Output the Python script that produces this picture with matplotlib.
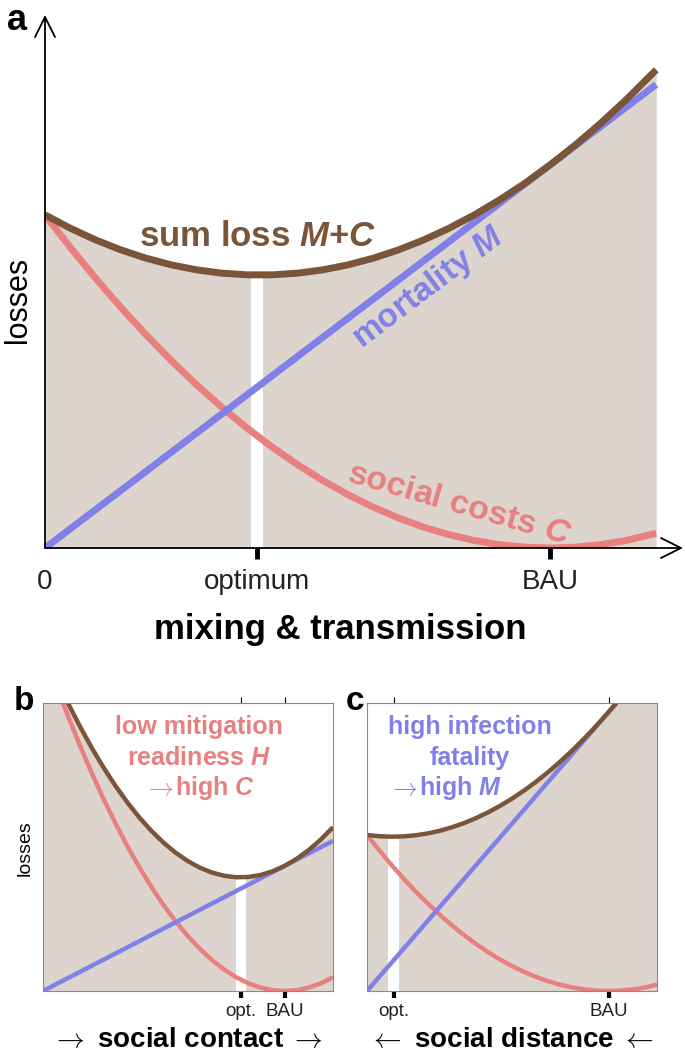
import matplotlib as mpl
import matplotlib.pyplot as plt
import numpy as np

mpl.rcParams["font.family"] = ["Liberation Sans", "DejaVu Sans"]
mpl.rcParams["mathtext.fontset"] = "custom"
mpl.rcParams["mathtext.rm"] = "Liberation Sans:bold"
mpl.rcParams["mathtext.it"] = "Liberation Sans:italic:bold"
mpl.rcParams["mathtext.bf"] = "Liberation Sans:bold"

COL_FILL = "#ddd5cd"
COL_SUM = "#7b5539"
COL_MORT = "#8080e8"
COL_COST = "#e88080"

# panel a: mixing & transmission (BAU at 1)
a_x = [0.0, 0.05, 0.1, 0.15, 0.2, 0.25, 0.3, 0.35, 0.4, 0.45, 0.5, 0.55,
       0.6, 0.65, 0.7, 0.75, 0.8, 0.85, 0.9, 0.95, 1.0, 1.05, 1.1, 1.15,
       1.21]
a_mort = [0.0, 0.0575, 0.115, 0.1725, 0.23, 0.2875, 0.345, 0.4025, 0.46,
          0.5175, 0.575, 0.6325, 0.69, 0.7475, 0.805, 0.8625, 0.92, 0.9775,
          1.035, 1.0925, 1.15, 1.2075, 1.265, 1.3225, 1.3915]
a_cost = [1.0, 0.9025, 0.81, 0.7225, 0.64, 0.5625, 0.49, 0.4225, 0.36,
          0.3025, 0.25, 0.2025, 0.16, 0.1225, 0.09, 0.0625, 0.04, 0.0225,
          0.01, 0.0025, 0.0, 0.0025, 0.01, 0.0225, 0.0441]
a_ticks = [0.0, 0.42, 1.0]
a_ticklabels = ["0", "optimum", "BAU"]

# panel b: low mitigation readiness
b_x = [0.0, 0.05, 0.1, 0.15, 0.2, 0.25, 0.3, 0.35, 0.4, 0.45, 0.5, 0.55,
       0.6, 0.65, 0.7, 0.75, 0.8, 0.85, 0.9, 0.95, 1.0, 1.05, 1.1, 1.15,
       1.2]
b_mort = [0.0, 0.03475, 0.0695, 0.10425, 0.139, 0.17375, 0.2085, 0.24325,
          0.278, 0.31275, 0.3475, 0.38225, 0.417, 0.45175, 0.4865, 0.52125,
          0.556, 0.59075, 0.6255, 0.66025, 0.695, 0.72975, 0.7645, 0.79925,
          0.834]
b_cost = [1.9, 1.7148, 1.539, 1.3728, 1.216, 1.0688, 0.931, 0.8028, 0.684,
          0.5748, 0.475, 0.3848, 0.304, 0.2328, 0.171, 0.1188, 0.076,
          0.0428, 0.019, 0.0048, 0.0, 0.0048, 0.019, 0.0428, 0.076]
b_ticks = [0.82, 1.0]

# panel c: high infection fatality
c_x = b_x
c_mort = [0.0, 0.0775, 0.155, 0.2325, 0.31, 0.3875, 0.465, 0.5425, 0.62,
          0.6975, 0.775, 0.8525, 0.93, 1.0075, 1.085, 1.1625, 1.24, 1.3175,
          1.395, 1.4725, 1.55, 1.6275, 1.705, 1.7825, 1.86]
c_cost = [0.867, 0.7825, 0.7023, 0.6264, 0.5549, 0.4877, 0.4248, 0.3663,
          0.3121, 0.2623, 0.2168, 0.1756, 0.1387, 0.1062, 0.078, 0.0542,
          0.0347, 0.0195, 0.0087, 0.0022, 0.0, 0.0022, 0.0087, 0.0195,
          0.0347]
c_ticks = [0.11, 1.0]
bc_ticklabels = ["opt.", "BAU"]

W, H = 685, 1053


def px_rect(x0, y0, x1, y1):
    """axes rectangle from pixel corners (top-left origin)"""
    return [x0 / W, 1 - y1 / H, (x1 - x0) / W, (y1 - y0) / H]


def px(x, y):
    return x / W, 1 - y / H


def draw_losses(ax, x, mort, cost, opt, band, lw):
    total = np.add(mort, cost)
    kw = dict(lw=lw, solid_capstyle="butt", solid_joinstyle="round")
    ax.fill_between(x, 0, total, color=COL_FILL, lw=0, zorder=1)
    ax.axvspan(opt - band / 2, opt + band / 2, color="white", lw=0, zorder=1.5)
    ax.plot(x, cost, color=COL_COST, zorder=2, **kw)
    ax.plot(x, mort, color=COL_MORT, zorder=2.1, **kw)
    ax.plot(x, total, color=COL_SUM, zorder=2.2, **kw)


fig = plt.figure(figsize=(6.85, 10.53), dpi=100)

# ---- panel a
ax1 = fig.add_axes(px_rect(45, 15, 683, 548))
ax1.set_xlim(0, 1.263)
ax1.set_ylim(0, 1.6)
draw_losses(ax1, a_x, a_mort, a_cost, a_ticks[1], 0.024, 5)
for s in ax1.spines.values():
    s.set_visible(False)
arw = dict(arrowstyle="->,head_length=0.9,head_width=0.45", lw=1.3,
           color="black", mutation_scale=16, shrinkA=0, shrinkB=0)
ax1.annotate("", xy=(1, 0), xytext=(0, 0), xycoords="axes fraction",
             arrowprops=arw, zorder=5)
ax1.annotate("", xy=(0, 1), xytext=(0, 0), xycoords="axes fraction",
             arrowprops=arw, zorder=5)
ax1.set_yticks([])
ax1.set_xticks(a_ticks)
ax1.set_xticklabels(a_ticklabels, fontsize=20)
ax1.tick_params(axis="x", length=8, width=3.5, pad=7, color="black",
                labelcolor="#222222")
ax1.xaxis.get_major_ticks()[0].tick1line.set_visible(False)

ax1.text(0.42, 0.935, r"sum loss $M$+$C$", color=COL_SUM, fontsize=25,
         fontweight="bold", ha="center", va="center", zorder=4)
ax1.text(0.76, 0.78, r"mortality $M$", color=COL_MORT, fontsize=24,
         fontweight="bold", ha="center", va="center", rotation=37,
         rotation_mode="anchor", zorder=4)
ax1.text(0.82, 0.13, r"social costs $C$", color=COL_COST, fontsize=24.5,
         fontweight="bold", ha="center", va="center", rotation=-16,
         rotation_mode="anchor", zorder=4)

fig.text(*px(17, 20), "a", fontsize=26, fontweight="bold",
         ha="center", va="center")
fig.text(*px(18, 300), "losses", fontsize=22, rotation=90,
         ha="center", va="center")
fig.text(*px(340, 630), "mixing & transmission", fontsize=25,
         fontweight="bold", ha="center", va="center")

# ---- panels b and c
panels = [
    (43, b_x, b_mort, b_cost, b_ticks, 0.041),
    (367, c_x, c_mort, c_cost, c_ticks, 0.045),
]
small_axes = []
for left, x, mort, cost, ticks, band in panels:
    ax = fig.add_axes(px_rect(left, 703, left + 290, 991))
    ax.set_xlim(0, 1.2)
    ax.set_ylim(0, 1.6)
    draw_losses(ax, x, mort, cost, ticks[0], band, 3.2)
    for s in ax.spines.values():
        s.set_color("#8a8a8a")
        s.set_linewidth(0.8)
        s.set_zorder(3)
    ax.set_yticks([])
    ax.set_xticks(ticks)
    ax.set_xticklabels(bc_ticklabels, fontsize=13.5)
    ax.tick_params(axis="x", top=True, length=5, width=3, pad=4,
                   color="black", labelcolor="#222222")
    for t in ax.xaxis.get_major_ticks():
        t.tick2line.set_color("#8a8a8a")
        t.tick2line.set_markeredgewidth(0.8)
        t.tick2line.set_markersize(4)
    small_axes.append(ax)

ax2, ax3 = small_axes

# annotation lines (pixel centres / starts)
b_lines = [("low mitigation", 199, 727), (r"readiness $H$", 199, 758)]
for line, xc, yc in b_lines:
    fig.text(*px(xc, yc), line, color=COL_COST, fontsize=18,
             fontweight="bold", ha="center", va="center", zorder=4)
fig.text(*px(174, 788), r"$\rightarrow$", color=COL_COST, fontsize=18,
         ha="right", va="center", math_fontfamily="cm")
fig.text(*px(175, 788), r"high $C$", color=COL_COST, fontsize=18,
         fontweight="bold", ha="left", va="center")

c_lines = [("high infection", 470, 727), ("fatality", 470, 758)]
for line, xc, yc in c_lines:
    fig.text(*px(xc, yc), line, color=COL_MORT, fontsize=18,
             fontweight="bold", ha="center", va="center", zorder=4)
fig.text(*px(418, 788), r"$\rightarrow$", color=COL_MORT, fontsize=18,
         ha="right", va="center", math_fontfamily="cm")
fig.text(*px(419, 788), r"high $M$", color=COL_MORT, fontsize=18,
         fontweight="bold", ha="left", va="center")

fig.text(*px(24, 702), "b", fontsize=24, fontweight="bold",
         ha="center", va="center")
fig.text(*px(355, 702), "c", fontsize=24, fontweight="bold",
         ha="center", va="center")
fig.text(*px(25, 848), "losses", fontsize=14, rotation=90,
         ha="center", va="center")
fig.text(*px(188, 1040), r"$\rightarrow$ social contact $\rightarrow$",
         fontsize=20, fontweight="bold", ha="center", va="center",
         math_fontfamily="cm")
fig.text(*px(512, 1040), r"$\leftarrow$ social distance $\leftarrow$",
         fontsize=20, fontweight="bold", ha="center", va="center",
         math_fontfamily="cm")

fig.savefig("out.png", dpi=100)
